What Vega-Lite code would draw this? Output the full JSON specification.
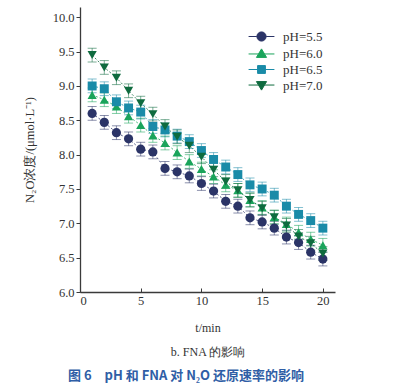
{
  "$schema": "https://vega.github.io/schema/vega-lite/v6.json",
  "width": 255,
  "height": 285,
  "autosize": {"type": "none"},
  "padding": {"left": 80, "top": 7, "right": 76, "bottom": 93},
  "background": "white",
  "config": {
    "view": {"stroke": null},
    "axis": {"grid": false, "domainColor": "#3a3a3a", "domainWidth": 1.3, "tickColor": "#3a3a3a", "labelFont": "Liberation Serif", "labelFontSize": 12.5, "labelColor": "#333333", "titleFont": "Liberation Serif", "titleFontWeight": "normal", "titleColor": "#333333"},
    "legend": {"orient": "none", "legendX": 175, "legendY": 23, "title": null, "symbolSize": 85, "symbolStrokeWidth": 1, "symbolOpacity": 1, "labelFont": "Liberation Serif", "labelFontSize": 13, "labelColor": "#333333", "rowPadding": 2, "labelOffset": 15}
  },
  "title": {
    "text": "图 6\u3000pH 和 FNA 对 N₂O 还原速率的影响",
    "orient": "bottom",
    "anchor": "start",
    "frame": "group",
    "dx": -12,
    "offset": 12,
    "font": "Noto Sans CJK SC",
    "fontSize": 13,
    "fontWeight": "bold",
    "color": "#2F5EA6"
  },
  "data": {
    "values": [
      {"t":1,"pH":"pH=5.5","c":8.60,"err":0.1},{"t":2,"pH":"pH=5.5","c":8.47,"err":0.1},{"t":3,"pH":"pH=5.5","c":8.32,"err":0.1},{"t":4,"pH":"pH=5.5","c":8.23,"err":0.1},{"t":5,"pH":"pH=5.5","c":8.08,"err":0.1},{"t":6,"pH":"pH=5.5","c":8.04,"err":0.1},{"t":7,"pH":"pH=5.5","c":7.80,"err":0.1},{"t":8,"pH":"pH=5.5","c":7.75,"err":0.1},{"t":9,"pH":"pH=5.5","c":7.69,"err":0.1},{"t":10,"pH":"pH=5.5","c":7.58,"err":0.1},
      {"t":11,"pH":"pH=5.5","c":7.47,"err":0.1},{"t":12,"pH":"pH=5.5","c":7.32,"err":0.1},{"t":13,"pH":"pH=5.5","c":7.25,"err":0.1},{"t":14,"pH":"pH=5.5","c":7.08,"err":0.1},{"t":15,"pH":"pH=5.5","c":7.02,"err":0.1},{"t":16,"pH":"pH=5.5","c":6.93,"err":0.1},{"t":17,"pH":"pH=5.5","c":6.80,"err":0.1},{"t":18,"pH":"pH=5.5","c":6.72,"err":0.1},{"t":19,"pH":"pH=5.5","c":6.58,"err":0.1},{"t":20,"pH":"pH=5.5","c":6.48,"err":0.1},
      {"t":1,"pH":"pH=6.0","c":8.87,"err":0.1},{"t":2,"pH":"pH=6.0","c":8.80,"err":0.1},{"t":3,"pH":"pH=6.0","c":8.70,"err":0.1},{"t":4,"pH":"pH=6.0","c":8.56,"err":0.1},{"t":5,"pH":"pH=6.0","c":8.43,"err":0.1},{"t":6,"pH":"pH=6.0","c":8.28,"err":0.1},{"t":7,"pH":"pH=6.0","c":8.17,"err":0.1},{"t":8,"pH":"pH=6.0","c":8.03,"err":0.1},{"t":9,"pH":"pH=6.0","c":7.90,"err":0.1},{"t":10,"pH":"pH=6.0","c":7.79,"err":0.1},
      {"t":11,"pH":"pH=6.0","c":7.68,"err":0.1},{"t":12,"pH":"pH=6.0","c":7.56,"err":0.1},{"t":13,"pH":"pH=6.0","c":7.48,"err":0.1},{"t":14,"pH":"pH=6.0","c":7.34,"err":0.1},{"t":15,"pH":"pH=6.0","c":7.23,"err":0.1},{"t":16,"pH":"pH=6.0","c":7.09,"err":0.1},{"t":17,"pH":"pH=6.0","c":6.99,"err":0.1},{"t":18,"pH":"pH=6.0","c":6.87,"err":0.1},{"t":19,"pH":"pH=6.0","c":6.77,"err":0.1},{"t":20,"pH":"pH=6.0","c":6.68,"err":0.1},
      {"t":1,"pH":"pH=6.5","c":9.00,"err":0.1},{"t":2,"pH":"pH=6.5","c":8.96,"err":0.1},{"t":3,"pH":"pH=6.5","c":8.77,"err":0.1},{"t":4,"pH":"pH=6.5","c":8.68,"err":0.1},{"t":5,"pH":"pH=6.5","c":8.62,"err":0.1},{"t":6,"pH":"pH=6.5","c":8.41,"err":0.1},{"t":7,"pH":"pH=6.5","c":8.36,"err":0.1},{"t":8,"pH":"pH=6.5","c":8.27,"err":0.1},{"t":9,"pH":"pH=6.5","c":8.19,"err":0.1},{"t":10,"pH":"pH=6.5","c":8.06,"err":0.1},
      {"t":11,"pH":"pH=6.5","c":7.93,"err":0.1},{"t":12,"pH":"pH=6.5","c":7.82,"err":0.1},{"t":13,"pH":"pH=6.5","c":7.71,"err":0.1},{"t":14,"pH":"pH=6.5","c":7.56,"err":0.1},{"t":15,"pH":"pH=6.5","c":7.50,"err":0.1},{"t":16,"pH":"pH=6.5","c":7.41,"err":0.1},{"t":17,"pH":"pH=6.5","c":7.25,"err":0.1},{"t":18,"pH":"pH=6.5","c":7.13,"err":0.1},{"t":19,"pH":"pH=6.5","c":7.04,"err":0.1},{"t":20,"pH":"pH=6.5","c":6.93,"err":0.1},
      {"t":1,"pH":"pH=7.0","c":9.45,"err":0.1},{"t":2,"pH":"pH=7.0","c":9.27,"err":0.1},{"t":3,"pH":"pH=7.0","c":9.12,"err":0.1},{"t":4,"pH":"pH=7.0","c":8.93,"err":0.1},{"t":5,"pH":"pH=7.0","c":8.75,"err":0.1},{"t":6,"pH":"pH=7.0","c":8.59,"err":0.1},{"t":7,"pH":"pH=7.0","c":8.41,"err":0.1},{"t":8,"pH":"pH=7.0","c":8.26,"err":0.1},{"t":9,"pH":"pH=7.0","c":8.13,"err":0.1},{"t":10,"pH":"pH=7.0","c":7.97,"err":0.1},
      {"t":11,"pH":"pH=7.0","c":7.78,"err":0.1},{"t":12,"pH":"pH=7.0","c":7.61,"err":0.1},{"t":13,"pH":"pH=7.0","c":7.48,"err":0.1},{"t":14,"pH":"pH=7.0","c":7.34,"err":0.1},{"t":15,"pH":"pH=7.0","c":7.22,"err":0.1},{"t":16,"pH":"pH=7.0","c":7.09,"err":0.1},{"t":17,"pH":"pH=7.0","c":6.97,"err":0.1},{"t":18,"pH":"pH=7.0","c":6.81,"err":0.1},{"t":19,"pH":"pH=7.0","c":6.71,"err":0.1},{"t":20,"pH":"pH=7.0","c":6.56,"err":0.1}
    ]
  },
  "encoding": {
    "x": {
      "field": "t", "type": "quantitative",
      "scale": {"domain": [0, 21], "nice": false},
      "axis": {"values": [0, 5, 10, 15, 20], "format": "d", "tickSize": -4, "labelPadding": 6, "title": ["t/min", "b. FNA 的影响"], "titleFontSize": 12, "titleLineHeight": 24, "titlePadding": 16}
    },
    "y": {
      "field": "c", "type": "quantitative",
      "scale": {"domain": [6, 10.15], "nice": false, "zero": false},
      "axis": {"values": [6, 6.5, 7, 7.5, 8, 8.5, 9, 9.5, 10], "format": ".1f", "tickSize": 4, "labelPadding": 2, "title": "N₂O浓度/(μmol·L⁻¹)", "titleFontSize": 12.5, "titleX": -44}
    },
    "color": {
      "field": "pH", "type": "nominal",
      "scale": {"domain": ["pH=5.5", "pH=6.0", "pH=6.5", "pH=7.0"], "range": ["#2B3467", "#1AA45B", "#1A8BA8", "#0F6B3F"]}
    }
  },
  "layer": [
    {
      "mark": {"type": "line", "strokeWidth": 0.8, "strokeDash": [2, 2]}
    },
    {
      "mark": {"type": "errorbar", "ticks": {"size": 9}, "opacity": 0.55, "thickness": 1},
      "encoding": {"yError": {"field": "err"}}
    },
    {
      "transform": [{"filter": {"field": "pH", "equal": "pH=5.5"}}],
      "mark": {"type": "point", "filled": true, "opacity": 1, "size": 85, "shape": "circle"}
    },
    {
      "transform": [{"filter": {"field": "pH", "equal": "pH=6.0"}}],
      "mark": {"type": "point", "filled": true, "opacity": 1, "size": 85, "shape": "triangle-up"}
    },
    {
      "transform": [{"filter": {"field": "pH", "equal": "pH=6.5"}}],
      "mark": {"type": "point", "filled": true, "opacity": 1, "size": 80, "shape": "square"}
    },
    {
      "transform": [{"filter": {"field": "pH", "equal": "pH=7.0"}}],
      "mark": {"type": "point", "filled": true, "opacity": 1, "size": 85, "shape": "triangle-down"}
    },
    {
      "mark": {"type": "point", "filled": true, "opacity": 0, "size": 85},
      "encoding": {
        "shape": {
          "field": "pH", "type": "nominal",
          "scale": {"domain": ["pH=5.5", "pH=6.0", "pH=6.5", "pH=7.0"], "range": ["M-2.8,0L-1,0M1,0L2.8,0M-1,0A1,1,0,1,1,1,0A1,1,0,1,1,-1,0Z", "M-2.8,0.1L-0.6,0.1M0.6,0.1L2.8,0.1M0,-1L1.1,0.85L-1.1,0.85Z", "M-2.8,0L-0.85,0M0.85,0L2.8,0M-0.85,-0.85L0.85,-0.85L0.85,0.85L-0.85,0.85Z", "M-2.8,-0.1L-0.6,-0.1M0.6,-0.1L2.8,-0.1M0,1L1.1,-0.85L-1.1,-0.85Z"]}
        },
        "stroke": {
          "field": "pH", "type": "nominal",
          "scale": {"domain": ["pH=5.5", "pH=6.0", "pH=6.5", "pH=7.0"], "range": ["#7F88B0", "#7ACB9A", "#7CC0D6", "#6E9F84"]}
        }
      }
    }
  ]
}
